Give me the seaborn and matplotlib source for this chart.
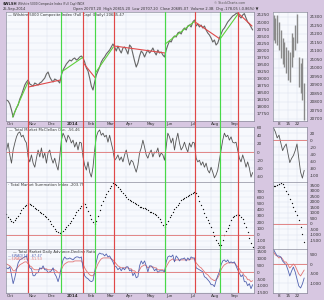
import numpy as np
import matplotlib
matplotlib.use("Agg")
import matplotlib.pyplot as plt
import seaborn as sns

sns.set_style("white")
plt.rcParams["font.family"] = ["DejaVu Sans"]

# ---------------- data (main panels, one sample per ~1.7 sessions) ----------------
price = [18244, 18209, 18103, 17891, 17643, 17820, 17962, 18068, 18280, 18421,
         18598, 18775, 18881, 18952, 18810, 18775, 18740, 18846, 18810, 18775,
         18846, 18881, 18952, 19022, 19164, 19235, 19058, 18952, 18881, 18987,
         18952, 18916, 18846, 19128, 19305, 19411, 19517, 19588, 19659, 19624,
         19694, 19730, 19659, 19694, 19765, 19800, 19730, 19588, 19376, 19270,
         19022, 18740, 18598, 18881, 19128, 19270, 19411, 19588, 19694, 19765,
         19871, 19942, 20012, 20118, 20225, 20118, 19977, 20154, 20012, 19906,
         20083, 20118, 20012, 19871, 20189, 20118, 19871, 19624, 19411, 19553,
         19800, 19977, 19906, 19765, 19906, 20012, 19906, 19977, 20083, 19942,
         19836, 20012, 19906, 19942, 19836, 19765, 20012, 20189, 20331, 20295,
         20437, 20507, 20472, 20614, 20649, 20578, 20720, 20790, 20720, 20861,
         20896, 20826, 21002, 21073, 20861, 20932, 20826, 20896, 20790, 20861,
         20720, 20614, 20543, 20437, 20295, 20366, 20189, 20260, 20437, 20578,
         20720, 20790, 20896, 21002, 21073, 21144, 21215, 21250, 21300, 21330,
         21215, 21144, 21250, 21300, 21144, 21002, 20932, 20826, 20720]

mcclellan = [5, 22, -7, -27, 5, 22, 37, 46, 49, 37,
             41, 29, 22, -12, -24, -7, -27, -37, -15, 5,
             -12, 10, -15, -2, -27, -2, 5, -15, -27, -15,
             -32, -44, -12, 29, 46, 37, 24, 41, 34, 22,
             29, 12, 24, 5, 24, 22, -12, -32, -44, -24,
             -49, -61, -37, 5, 37, 49, 54, 41, 46, 37,
             41, 24, 41, 22, 5, -20, -15, -7, -20, -12,
             -24, -7, 5, -15, -32, -20, -24, -37, -49, -32,
             -2, 10, 29, 12, -7, -15, -2, 5, -12, 0,
             -2, 10, -12, -2, -7, -20, 12, 46, 37, 22,
             34, 5, 29, 46, 22, 5, 12, 24, 10, 0,
             22, 12, 24, 22, -15, -24, -20, -32, -24, -37,
             -27, -44, -51, -37, -49, -63, -56, -44, -20, 5,
             29, 46, 37, 41, 29, 37, 24, 22, 24, 5,
             -15, -24, -7, -20, -37, -24, -39, -61, -50]

summation = [330, 290, 250, 225, 205, 235, 265, 305, 350, 390,
             435, 460, 480, 505, 490, 475, 455, 435, 415, 395,
             370, 350, 330, 305, 280, 245, 215, 175, 135, 90,
             65, 45, 30, 40, 65, 95, 125, 155, 190, 225,
             270, 310, 355, 390, 425, 465, 500, 485, 440, 375,
             320, 245, 195, 175, 215, 300, 390, 470, 545, 600,
             650, 700, 745, 785, 825, 815, 795, 770, 730, 700,
             665, 635, 605, 575, 560, 540, 525, 505, 485, 470,
             450, 440, 435, 430, 415, 395, 370, 355, 345, 335,
             310, 280, 245, 205, 160, 125, 175, 215, 275, 320,
             365, 410, 445, 480, 510, 550, 575, 595, 610, 625,
             640, 655, 670, 690, 670, 620, 540, 480, 415, 345,
             285, 235, 190, 120, 45, -25, -85, -130, -175, -165,
             -85, -10, 55, 110, 160, 230, 275, 305, 320, 330,
             310, 280, 245, 190, 120, 40, -60, -140, -200]

ad_fast = [330, 255, 405, -185, -840, -405, 185, 695, 915, 990,
           1060, 1135, 1210, 770, 330, 255, -255, -255, -35, -35,
           330, 255, 475, 185, 185, -35, 35, 110, 330, -110,
           -330, -695, -255, 405, 915, 1135, 990, 990, 1060, 990,
           915, 1060, 1135, 1135, 1060, 1135, 330, -255, -405, -475,
           -620, -695, -620, 35, 770, 1280, 1425, 1355, 1355, 1210,
           1355, 1135, 1210, 990, 770, 475, 405, 185, 330, 110,
           330, 185, 405, 405, 110, 185, -255, -35, -405, -330,
           475, 840, 620, 840, 475, 35, 475, 475, 330, 110,
           255, -35, 110, 110, 110, 35, 770, 1135, 1210, 1135,
           1280, 770, 1210, 1060, 840, 990, 990, 1060, 840, 1060,
           915, 1135, 1060, 1060, 330, 255, 185, 110, 35, -330,
           -405, -550, -695, -915, -915, -1060, -620, -255, 35, 550,
           840, 915, 770, 915, 695, 770, 695, 770, 475, 185,
           -35, -330, -185, -695, -695, -990, -840, -1210, -915]

ad_slow = [620, 550, 475, 330, 110, 110, 255, 405, 550, 620,
           695, 770, 770, 620, 475, 405, 255, 185, 185, 185,
           255, 255, 330, 255, 255, 185, 185, 185, 255, 185,
           110, -35, -35, 185, 475, 620, 695, 770, 770, 770,
           770, 840, 840, 840, 840, 840, 620, 330, 110, -35,
           -185, -255, -255, -35, 330, 620, 840, 990, 1060, 1060,
           1060, 1060, 1060, 990, 915, 770, 620, 475, 405, 330,
           330, 330, 330, 330, 255, 255, 110, 110, -35, -35,
           185, 405, 475, 550, 475, 330, 405, 405, 405, 330,
           330, 185, 185, 185, 185, 110, 405, 620, 840, 915,
           990, 840, 915, 915, 915, 915, 915, 915, 915, 915,
           915, 990, 990, 990, 695, 550, 405, 330, 185, 35,
           -110, -185, -330, -475, -550, -620, -550, -405, -185, 185,
           405, 550, 620, 695, 695, 695, 695, 695, 550, 405,
           255, 35, -35, -255, -330, -550, -550, -695, -620]

month_pos = [0, 13.2, 24.6, 36, 48.6, 60, 72, 84, 96, 110.4, 123, 135]
month_lab = ["Oct", "Nov", "Dec", "2014", "Feb", "Mar", "Apr", "May", "Jun", "Jul", "Aug", "Sep"]

signal_sell = [13.2, 46.2, 64.8, 113.4, 139.2]
signal_buy = [33.0, 53.4, 95.4, 128.4]

trend_x0 = [3.6, 13.2, 33.0, 46.2, 53.4, 64.8, 95.4, 113.4, 128.4, 139.2]
trend_v0 = [17643, 18704, 19235, 19553, 19199, 20154, 20225, 21002, 20401, 21321]
trend_x1 = [13.2, 32.4, 46.2, 53.4, 64.2, 95.4, 113.4, 128.4, 139.2, 147.6]
trend_v1 = [18916, 18952, 19765, 19022, 20118, 19906, 21038, 20401, 21285, 20861]
trend_dir = ["up", "down", "up", "down", "up", "down", "up", "down", "up", "down"]

# ---------------- data (September daily detail) ----------------
sep_high = [21312, 21294, 21312, 21271, 21224, 21177, 21153, 21124, 21106, 21094,
            21206, 21182, 21253, 21318, 21065, 21029, 21059, 20912]
sep_low = [21165, 21147, 21135, 21106, 21059, 21024, 21006, 20971, 20930, 20918,
           21006, 21065, 21106, 21147, 20888, 20853, 20812, 20694]
sep_mcc = [35, 24, 7, 15, -7, -29, -18, -10, -38, -63, -51, -43, -29, -10, -51, -90, -107, -85]
sep_sum = [3455, 3455, 3545, 3636, 3727, 3636, 3363, 3000, 2727, 2273, 1909, 1545,
           1182, 818, 364, -273, -909, -1636]
sep_ad_fast = [750, 569, 414, 414, 362, 155, 52, -52, -310, -620, -362, -155, -414,
               -776, -1137, -1241, -1034, -724]
sep_ad_slow = [620, 465, 414, 310, 362, 258, 103, 103, -52, -207, -103, 0, -103,
               -310, -517, -620, -465, -310]
sep_tick_pos = [3, 8, 13]
sep_tick_lab = ["8", "15", "22"]

# ---------------- styling ----------------
BG = "#d7c7e1"
PANEL = "#f7f9fd"
GRID = "#dce2ee"
SELL = "#e04848"
BUY = "#48d848"
BLUE = "#5363b0"
PINK = "#e07474"
FS = 3.0

W, H = 324, 300
fig = plt.figure(figsize=(W / 100, H / 100), dpi=100, facecolor=BG)


def px_axes(x0, y0, x1, y1):
    return fig.add_axes([x0 / W, 1 - y1 / H, (x1 - x0) / W, (y1 - y0) / H])


def style(ax, yt, ylim, xlim, xt):
    ax.set_facecolor(PANEL)
    ax.set_xlim(*xlim)
    ax.set_ylim(*ylim)
    ax.set_yticks(yt)
    ax.set_yticklabels([str(v) for v in yt])
    ax.yaxis.tick_right()
    ax.set_xticks(xt)
    ax.tick_params(axis="y", length=0, pad=2.2, labelsize=FS, labelcolor="#333333")
    ax.tick_params(axis="x", length=0, labelbottom=False, pad=0.6, labelsize=FS,
                   labelcolor="#333333")
    ax.grid(True, color=GRID, lw=0.35)
    ax.set_xlabel("")
    ax.set_ylabel("")
    for s in ax.spines.values():
        s.set_color("#8c8c9c")
        s.set_linewidth(0.5)


idx = np.arange(len(price))
XL = (-0.3, 148.8)
d = np.arange(len(sep_high))
XS = (-0.33, 18.56)

# main panels
ax_p = px_axes(6, 12, 254, 121)
ax_m = px_axes(6, 127, 254, 182)
ax_s = px_axes(6, 182, 254, 249)
ax_a = px_axes(6, 249, 254, 293)
# side panels
bx_p = px_axes(273, 12, 307, 121)
bx_m = px_axes(273, 127, 307, 182)
bx_s = px_axes(273, 182, 307, 249)
bx_a = px_axes(273, 249, 307, 293)

# price
sns.lineplot(x=idx, y=price, ax=ax_p, color="#666666", lw=0.8)
for x0, v0, x1, v1, k in zip(trend_x0, trend_v0, trend_x1, trend_v1, trend_dir):
    ax_p.plot([x0, x1], [v0, v1], color=("#5fd03c" if k == "up" else "#e04a4a"), lw=0.8)
style(ax_p, list(range(17750, 21251, 250)), (17502, 21356), XL, month_pos)
ax_p.tick_params(axis="x", labelbottom=True)
ax_p.set_xticklabels(month_lab, ha="left")
for t in ax_p.get_xticklabels():
    if t.get_text() == "2014":
        t.set_fontweight("bold")
ax_p.text(0.008, 0.995, "\u2014 Wilshire 5000 Composite Index (Full Cap) (Daily) 20685.47",
          transform=ax_p.transAxes, fontsize=2.7, va="top", ha="left", color="#333333")

# McClellan oscillator
sns.lineplot(x=idx, y=mcclellan, ax=ax_m, color="#555555", lw=0.6)
ax_m.axhline(0, color=PINK, lw=0.6)
style(ax_m, list(range(-60, 61, 20)), (-73, 61), XL, month_pos)
ax_m.text(0.012, 0.985, "\u2014 Total Market McClellan Osc. -56.46",
          transform=ax_m.transAxes, fontsize=2.7, va="top", ha="left", color="#333333")

# Summation index (dots)
sns.scatterplot(x=idx, y=summation, ax=ax_s, color="#111111", s=0.9, linewidth=0)
ax_s.axhline(0, color=PINK, lw=0.6)
style(ax_s, list(range(-200, 701, 100)), (-232, 845), XL, month_pos)
ax_s.text(0.008, 0.985, "\u00b7 Total Market Summation Index -203.75",
          transform=ax_s.transAxes, fontsize=2.7, va="top", ha="left", color="#333333")

# Advance-decline ratio
sns.lineplot(x=idx, y=ad_slow, ax=ax_a, color=PINK, lw=0.6)
sns.lineplot(x=idx, y=ad_fast, ax=ax_a, color=BLUE, lw=0.6)
ax_a.axhline(0, color=PINK, lw=0.6)
style(ax_a, list(range(-1500, 1501, 500)), (-1530, 1720), XL, month_pos)
ax_a.tick_params(axis="x", labelbottom=True)
ax_a.set_xticklabels(month_lab, ha="left")
for t in ax_a.get_xticklabels():
    if t.get_text() == "2014":
        t.set_fontweight("bold")
ax_a.text(0.03, 0.985, "\u2014 Total Market Daily Advance-Decline Ratio",
          transform=ax_a.transAxes, fontsize=2.7, va="top", ha="left", color="#333333")
ax_a.text(0.008, 0.895, "\u2014$WAD(10) -67.47", transform=ax_a.transAxes,
          fontsize=2.5, va="top", ha="left", color=BLUE)
ax_a.text(0.008, 0.82, "\u2014$WAD(20) -51.53", transform=ax_a.transAxes,
          fontsize=2.5, va="top", ha="left", color=PINK)

# side: September daily
bx_p.vlines(d, sep_low, sep_high, color="#8a8a8a", lw=1.0)
style(bx_p, list(range(20700, 21301, 50)), (20688, 21329), XS, sep_tick_pos)
bx_p.tick_params(axis="x", labelbottom=True)
bx_p.set_xticklabels(sep_tick_lab)

sns.lineplot(x=d, y=sep_mcc, ax=bx_m, color="#555555", lw=0.6)
bx_m.axhline(0, color=PINK, lw=0.6)
style(bx_m, list(range(-100, 21, 20)), (-118, 38), XS, sep_tick_pos)

sns.scatterplot(x=d, y=sep_sum, ax=bx_s, color="#111111", s=0.9, linewidth=0)
bx_s.axhline(0, color=PINK, lw=0.6)
style(bx_s, list(range(-1500, 3501, 500)), (-2273, 3818), XS, sep_tick_pos)

sns.lineplot(x=d, y=sep_ad_slow, ax=bx_a, color=PINK, lw=0.6)
sns.lineplot(x=d, y=sep_ad_fast, ax=bx_a, color=BLUE, lw=0.6)
bx_a.axhline(0, color=PINK, lw=0.6)
style(bx_a, list(range(-1000, 501, 500)), (-1500, 776), XS, sep_tick_pos)
bx_a.tick_params(axis="x", labelbottom=True)
bx_a.set_xticklabels(sep_tick_lab)

# signal lines spanning all main panels
ov = px_axes(6, 12, 254, 293)
ov.set_xlim(*XL)
ov.set_ylim(0, 1)
ov.axis("off")
ov.patch.set_alpha(0)
for xv in signal_sell:
    ov.axvline(xv, color=SELL, lw=0.85)
for xv in signal_buy:
    ov.axvline(xv, color=BUY, lw=0.85)

# header
fig.text(3 / W, 1 - 1.5 / H, "$WLSH", fontsize=2.6, fontweight="bold", va="top", ha="left")
fig.text(18 / W, 1 - 1.8 / H, "Wilshire 5000 Composite Index (Full Cap) INDX",
         fontsize=2.1, va="top", ha="left", color="#333333")
fig.text(214 / W, 1 - 0.8 / H, "\u00a9 StockCharts.com", fontsize=2.3, va="top",
         ha="left", color="#555555")
fig.text(3 / W, 1 - 6.6 / H, "25-Sep-2014", fontsize=2.6, va="top", ha="left",
         color="#333333")
fig.text(73 / W, 1 - 6.6 / H,
         "Open 20707.20  High 20815.20  Low 20707.20  Close 20685.07  Volume 2.3B  "
         "Chg -178.05 (-0.86%) \u25bc",
         fontsize=2.6, va="top", ha="left", color="#333333")

fig.savefig("out.png", dpi=100, facecolor=BG)
